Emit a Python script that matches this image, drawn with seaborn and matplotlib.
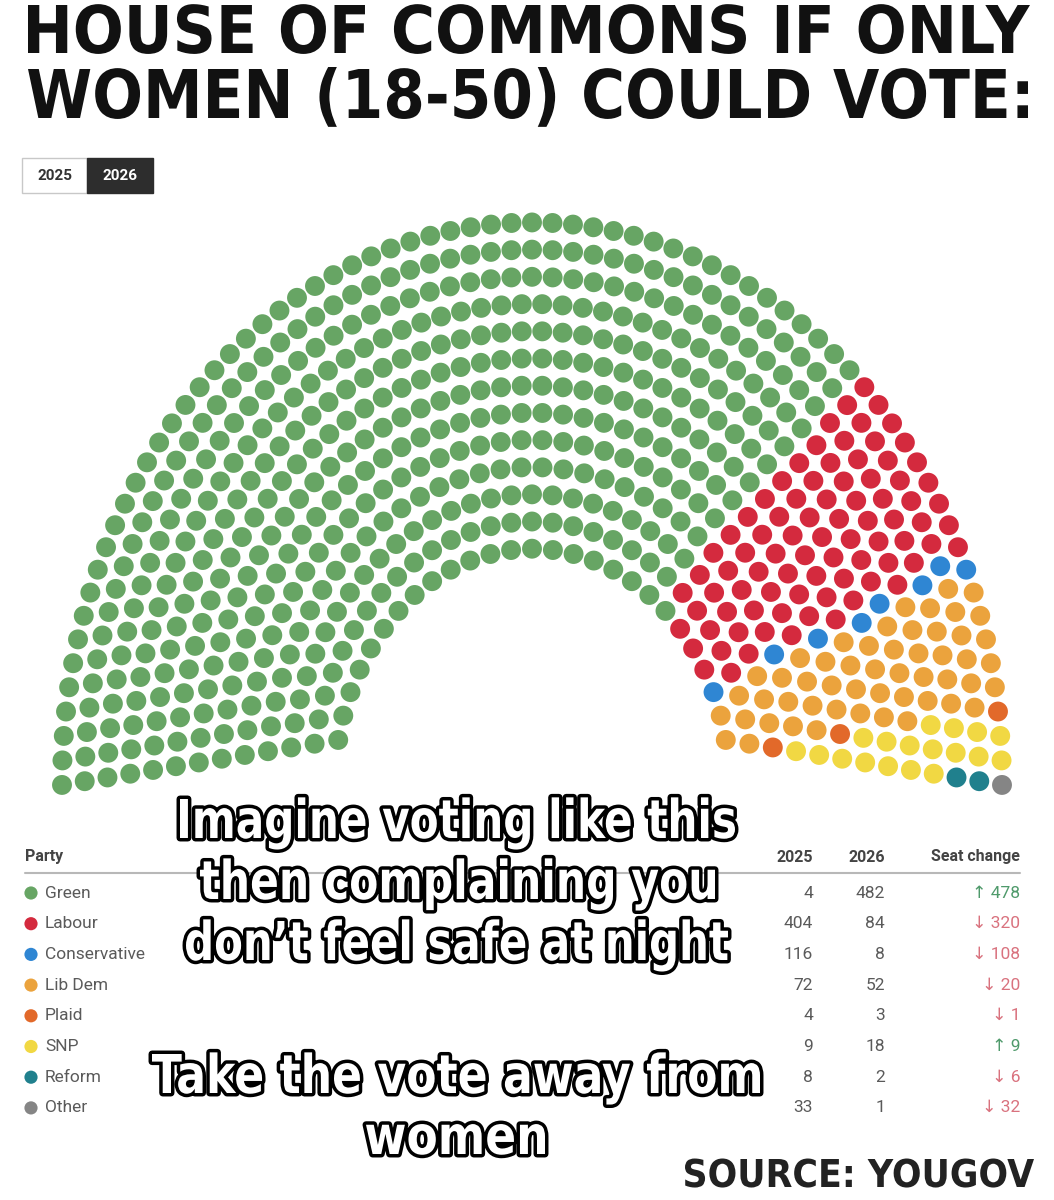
import numpy as np
import pandas as pd
import matplotlib
matplotlib.use("Agg")
import matplotlib.pyplot as plt
from matplotlib.patches import Rectangle, PathPatch
from matplotlib.textpath import TextPath
from matplotlib.font_manager import FontProperties
from matplotlib.transforms import Affine2D
import seaborn as sns

# data
parties = ["Green", "Labour", "Conservative", "Lib Dem", "Plaid", "SNP", "Reform", "Other"]
seats_2025 = [4, 404, 116, 72, 4, 9, 8, 33]
seats_2026 = [482, 84, 8, 52, 3, 18, 2, 1]
colours = ["#67a564", "#d42a3e", "#2f86d3", "#eba33d", "#e2692a", "#f1d843", "#20808d", "#858585"]
palette = dict(zip(parties, colours))

title_lines = ["HOUSE OF COMMONS IF ONLY", "WOMEN (18-50) COULD VOTE:"]
caption_top = ["Imagine voting like this", "then complaining you", "don\u2019t feel safe at night"]
caption_bottom = ["Take the vote away from", "women"]

sns.set_theme(style="white")
plt.rcParams["font.family"] = ["Roboto", "DejaVu Sans"]

# hemicycle geometry (13 rows, seats sorted by angle)
total = sum(seats_2026)
n_rows = 13
r_in = 0.42
radii = np.linspace(r_in, 1.0, n_rows)
lift = 0.08 * (1 - radii) / (1 - r_in)
alpha = np.arcsin(lift / radii)
arc = radii * (np.pi - 2 * alpha)
share = arc / arc.sum() * total
per_row = np.floor(share).astype(int)
rest = total - per_row.sum()
per_row[np.argsort(-(share - per_row))[:rest]] += 1

rows = []
for i in range(n_rows):
    th = np.linspace(np.pi - alpha[i], alpha[i], per_row[i])
    for t in th:
        rows.append((radii[i] * np.cos(t), radii[i] * np.sin(t), t, radii[i]))
seats = pd.DataFrame(rows, columns=["x", "y", "theta", "r"])
seats = seats.sort_values(["theta", "r"], ascending=[False, True]).reset_index(drop=True)
seats["party"] = np.repeat(parties, seats_2026)

fig = plt.figure(figsize=(10.54, 12), dpi=100)
fig.patch.set_facecolor("white")

ax = fig.add_axes([15 / 1054, 0.299, 1034 / 1054, 0.5625])
sns.scatterplot(data=seats, x="x", y="y", hue="party", palette=palette,
                s=205, linewidth=0, legend=False, ax=ax)
ax.set_xlim(-1.1, 1.1)
ax.set_ylim(-0.1, 1.1)
ax.axis("off")

# overlay in pixel coordinates for the texts and table
ov = fig.add_axes([0, 0, 1, 1])
ov.set_xlim(0, 1054)
ov.set_ylim(1200, 0)
ov.axis("off")


def fitted_text(s, x0, x1, baseline, cap, weight="bold", color="black", outline=None, zorder=5):
    """draw text as a path squeezed into [x0, x1] with a given cap height (pixels)"""
    prop = FontProperties(family="DejaVu Sans", weight=weight)
    tp = TextPath((0, 0), s, size=1, prop=prop)
    bb = tp.get_extents()
    cap_unit = TextPath((0, 0), "H", size=1, prop=prop).get_extents().height
    sy = cap / cap_unit
    sx = (x1 - x0) / bb.width
    tr = Affine2D().translate(-bb.x0, 0).scale(sx, -sy).translate(x0, baseline)
    path = tr.transform_path(tp)
    if outline:
        ov.add_patch(PathPatch(path, facecolor="black", edgecolor="black", lw=outline,
                               joinstyle="round", zorder=zorder))
    ov.add_patch(PathPatch(path, facecolor=color, edgecolor="none", lw=0, zorder=zorder + 1))


fitted_text(title_lines[0], 28, 1030, 53, 48, color="#111111")
fitted_text(title_lines[1], 28, 1028, 118, 49, color="#111111")

# year toggle
ov.add_patch(Rectangle((22, 158), 65, 35, facecolor="white", edgecolor="#c8c8c8", lw=1))
ov.add_patch(Rectangle((87, 158), 66, 35, facecolor="#2d2d2d", edgecolor="#2d2d2d", lw=1))
ov.text(54.5, 176, "2025", ha="center", va="center", fontsize=11, fontweight="bold", color="#333333")
ov.text(120, 176, "2026", ha="center", va="center", fontsize=11, fontweight="bold", color="white")

# table
hdr = dict(fontsize=11.5, fontweight="bold", color="#444444", va="center")
ov.text(25, 857, "Party", ha="left", **hdr)
ov.text(813, 857, "2025", ha="right", **hdr)
ov.text(885, 857, "2026", ha="right", **hdr)
ov.text(1020, 857, "Seat change", ha="right", **hdr)
ov.plot([25, 1020], [873, 873], color="#b8b8b8", lw=1.5)

table = pd.DataFrame({"party": parties, "y25": seats_2025, "y26": seats_2026})
table["ypix"] = 893 + table.index * 30.7
table["xdot"] = 31
sns.scatterplot(data=table, x="xdot", y="ypix", hue="party", palette=palette,
                s=90, linewidth=0, legend=False, ax=ov)
for _, row in table.iterrows():
    y = row["ypix"]
    ov.text(45, y, row["party"], fontsize=12.5, color="#5a5a5a", va="center")
    ov.text(813, y, str(row["y25"]), fontsize=12.5, color="#5a5a5a", va="center", ha="right")
    ov.text(885, y, str(row["y26"]), fontsize=12.5, color="#5a5a5a", va="center", ha="right")
    diff = row["y26"] - row["y25"]
    arrow = "\u2191" if diff > 0 else "\u2193"
    col = "#4f9a6b" if diff > 0 else "#d9727e"
    ov.text(1020, y, f"{arrow} {abs(diff)}", fontsize=12.5, color=col, va="center", ha="right")

# meme captions, white with black outline
top_spans = [(180, 735), (200, 715), (186, 728)]
for k, line in enumerate(caption_top):
    fitted_text(line, *top_spans[k], 838 + k * 61, 39, weight="bold", color="white",
                outline=5, zorder=10)
bottom_spans = [(152, 760), (366, 545)]
for k, line in enumerate(caption_bottom):
    fitted_text(line, *bottom_spans[k], 1093 + k * 61, 39, weight="bold", color="white",
                outline=5, zorder=10)

fitted_text("SOURCE: YOUGOV", 685, 1034, 1187, 28, color="#222222")

fig.savefig("out.png", dpi=100, facecolor="white")
